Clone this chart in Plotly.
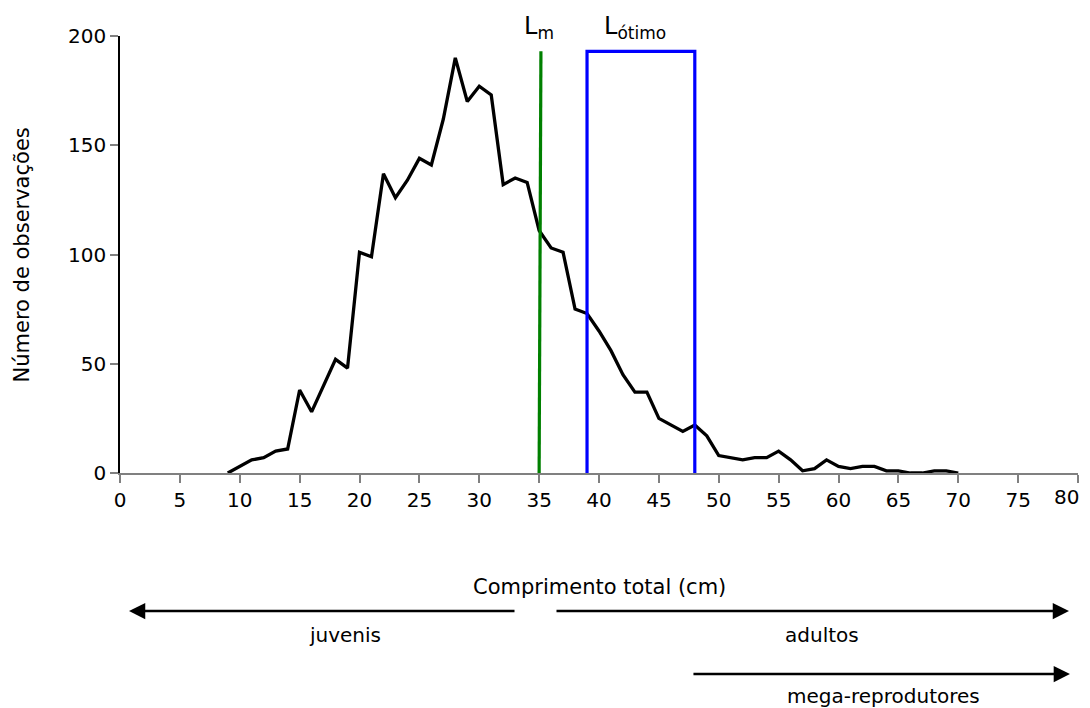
import plotly.graph_objects as go

# Length-frequency data (cm, number of observations)
comprimento = list(range(9, 71))
observacoes = [0, 3, 6, 7, 10, 11, 38, 28, 40, 52, 48, 101, 99, 137, 126, 134, 144, 141,
               162, 190, 170, 177, 173, 132, 135, 133, 111, 103, 101, 75, 73, 65, 56, 45,
               37, 37, 25, 22, 19, 22, 17, 8, 7, 6, 7, 7, 10, 6, 1, 2, 6, 3, 2, 3, 3, 1,
               1, 0, 0, 1, 1, 0]

# Reference lengths
lm_x = [35, 35.15]
lm_y = [0, 193]
lotimo_x = [39, 39, 48, 48]
lotimo_y = [0, 193, 193, 0]

x_ticks = list(range(0, 81, 5))
y_ticks = [0, 50, 100, 150, 200]

FONT = "DejaVu Sans, Verdana, sans-serif"
TICK = 20
TITLE = 21

fig = go.Figure()
fig.add_trace(go.Scatter(x=comprimento, y=observacoes, mode="lines",
                         line=dict(color="black", width=3.3), cliponaxis=False,
                         showlegend=False, hoverinfo="skip"))
fig.add_trace(go.Scatter(x=lm_x, y=lm_y, mode="lines",
                         line=dict(color="#008000", width=3.2), cliponaxis=False,
                         showlegend=False))
fig.add_trace(go.Scatter(x=lotimo_x, y=lotimo_y, mode="lines",
                         line=dict(color="#0000FF", width=3.2), cliponaxis=False,
                         showlegend=False))

ann = []
sub = "<sub><span style='font-size:17px'>{}</span></sub>"
ann.append(dict(x=35.0, y=196, xref="x", yref="y", text="L" + sub.format("m"), showarrow=False,
                font=dict(size=24, color="black", family=FONT), xanchor="center", yanchor="bottom"))
ann.append(dict(x=43.0, y=196, xref="x", yref="y", text="L" + sub.format("ótimo"), showarrow=False,
                font=dict(size=24, color="black", family=FONT), xanchor="center", yanchor="bottom"))
# Last x tick label (drawn as annotation so it is not hidden at the page edge)
ann.append(dict(x=x_ticks[-1], y=-0.0549, xref="x", yref="paper", text=str(x_ticks[-1]),
                showarrow=False, font=dict(size=TICK, color="black", family=FONT),
                xanchor="right", xshift=3, yanchor="middle"))
# Axis titles
ann.append(dict(x=-0.1023, y=0.5, xref="paper", yref="paper", text="Número de observações",
                textangle=-90, showarrow=False, font=dict(size=TITLE, color="black", family=FONT),
                xanchor="center", yanchor="middle"))
ann.append(dict(x=0.5, y=-0.2609, xref="paper", yref="paper", text="Comprimento total (cm)",
                showarrow=False, font=dict(size=TITLE, color="black", family=FONT),
                xanchor="center", yanchor="middle"))
# Arrows (paper coordinates, tails in pixels)
arrow_style = dict(xref="paper", yref="paper", axref="pixel", ayref="pixel", showarrow=True,
                   text="", arrowhead=2, arrowsize=1.3, arrowwidth=2.5, arrowcolor="black",
                   standoff=0, startstandoff=0)
ann.append(dict(x=0.0094, y=-0.3158, ax=387, ay=0, **arrow_style))
ann.append(dict(x=0.9906, y=-0.3158, ax=-514, ay=0, **arrow_style))
ann.append(dict(x=0.9916, y=-0.46, ax=-378, ay=0, **arrow_style))
# Arrow labels
for txt, xx, yy in [("juvenis", 0.2349, -0.3707), ("adultos", 0.7328, -0.3707),
                    ("mega-reprodutores", 0.7965, -0.5103)]:
    ann.append(dict(x=xx, y=yy, xref="paper", yref="paper", text=txt, showarrow=False,
                    font=dict(size=TICK, color="black", family=FONT),
                    xanchor="center", yanchor="middle"))

fig.update_layout(
    width=1074, height=700,
    margin=dict(l=112, r=4, t=28, b=235),
    paper_bgcolor="white", plot_bgcolor="white",
    font=dict(family=FONT, size=TICK, color="black"),
    annotations=ann,
    xaxis=dict(range=[0, 80], tickvals=x_ticks,
               ticktext=[str(v) for v in x_ticks[:-1]] + [""],
               showgrid=False, zeroline=False, showline=True, linecolor="#808080",
               linewidth=1.5, ticks="outside", ticklen=8, tickcolor="#808080", tickwidth=1.5,
               tickfont=dict(size=TICK, color="black", family=FONT), fixedrange=True),
    yaxis=dict(range=[0, 200], tickvals=y_ticks, ticktext=[str(v) for v in y_ticks],
               showgrid=False, zeroline=False, showline=True, linecolor="black",
               linewidth=1.5, ticks="outside", ticklen=8, tickcolor="#808080", tickwidth=1.5,
               tickfont=dict(size=TICK, color="black", family=FONT), fixedrange=True),
)

fig.write_html("out.html")
